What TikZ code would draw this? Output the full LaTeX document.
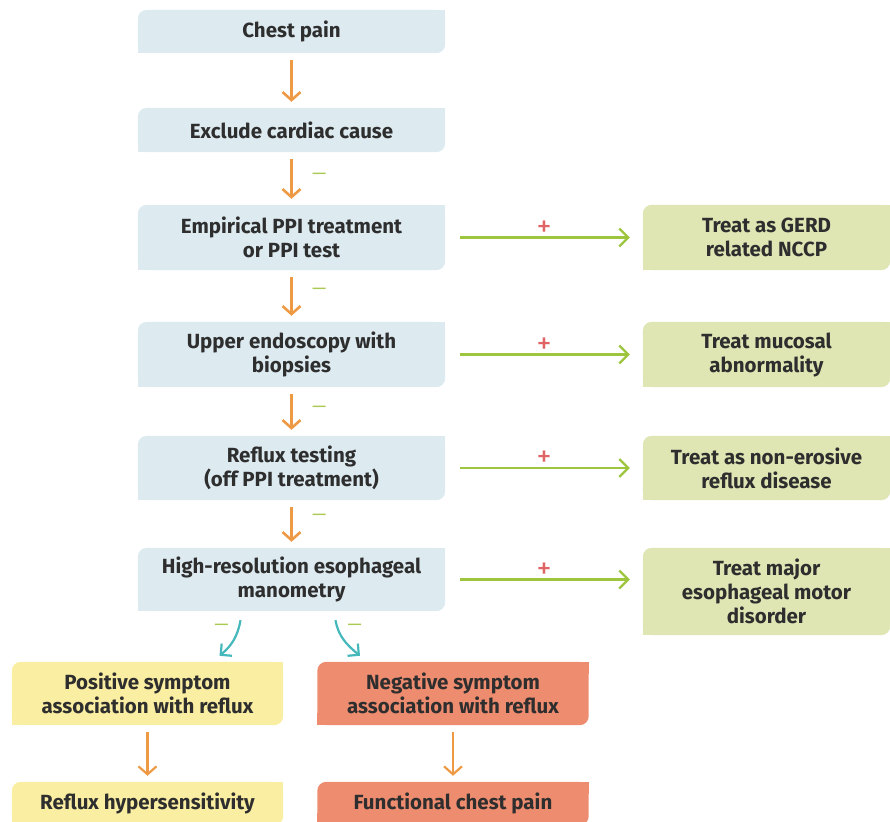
\documentclass[tikz,border=0pt]{standalone}
\usepackage{fontspec}
\setmainfont{Fira Sans}
\usetikzlibrary{arrows.meta,backgrounds}

\definecolor{azul}{HTML}{DDEBF1}
\definecolor{verde}{HTML}{DFE6B4}
\definecolor{amarillo}{HTML}{FAEEA2}
\definecolor{naranja}{HTML}{EE8C70}
\definecolor{flechanar}{HTML}{EE9A45}
\definecolor{flechaver}{HTML}{9DC53E}
\definecolor{turquesa}{HTML}{45B8BC}
\definecolor{mas}{HTML}{E06464}
\definecolor{menos}{HTML}{A9C952}
\definecolor{texto}{HTML}{2E2E2E}

\begin{document}
\begin{tikzpicture}[x=1pt, y=-1pt,
        caja/.style={text=texto, font=\bfseries\fontsize{20.5}{24}\selectfont, align=center, inner sep=0pt},
        izq/.style={caja, minimum width=307pt},
        der/.style={caja, minimum width=247pt},
        abajo/.style={caja, minimum width=271pt},
        bajar/.style={draw=flechanar, line width=2.6pt, -{Straight Barb[length=8pt,width=18pt]}, shorten <=7pt, shorten >=6pt},
        lado/.style={draw=flechaver, line width=2.2pt, -{Straight Barb[length=9pt,width=18pt]}, shorten <=15pt, shorten >=13pt},
        curva/.style={draw=turquesa, line width=2.2pt, -{Straight Barb[length=8pt,width=16pt]}},
        signomenos/.style={text=menos, font=\fontsize{18}{20}\selectfont},
        signomas/.style={text=mas, font=\fontsize{30}{30}\selectfont, inner sep=0pt}]

    \useasboundingbox (0,0) rectangle (890,821);

    % Columna principal
    \node[izq, minimum height=43pt] (chest) at (291.5,31.5) {Chest pain};
    \node[izq, minimum height=44pt] (exclude) at (291.5,130) {Exclude cardiac cause};
    \node[izq, minimum height=65pt] (ppi) at (291.5,237.5) {Empirical PPI treatment\\or PPI test};
    \node[izq, minimum height=65pt] (endo) at (291.5,354.5) {Upper endoscopy with\\biopsies};
    \node[izq, minimum height=64pt] (reflux) at (291.5,468) {Reflux testing\\(off PPI treatment)};
    \node[izq, minimum height=63pt] (hrm) at (291.5,579.5) {High-resolution esophageal\\manometry};

    % Tratamientos
    \node[der, minimum height=65pt] (gerd) at (766.5,237.5) {Treat as GERD\\related NCCP};
    \node[der, minimum height=65pt] (mucosa) at (766.5,354.5) {Treat mucosal\\abnormality};
    \node[der, minimum height=64pt] (nerd) at (766.5,468) {Treat as non-erosive\\reflux disease};
    \node[der, minimum height=87pt] (motor) at (766.5,591.5) {Treat major\\esophageal motor\\disorder};

    % Resultados
    \node[abajo, minimum height=63pt] (positivo) at (147.5,693.5) {Positive symptom\\association with reflux};
    \node[abajo, minimum height=63pt] (negativo) at (453,693.5) {Negative symptom\\association with reflux};
    \node[abajo, minimum height=43pt] (hiper) at (147.5,803.5) {Reflux hypersensitivity};
    \node[abajo, minimum height=43pt] (funcional) at (453,803.5) {Functional chest pain};

    % Fondos
    \begin{scope}[on background layer]
        \foreach \n/\c in {chest/azul, exclude/azul, ppi/azul, endo/azul, reflux/azul, hrm/azul,
                gerd/verde, mucosa/verde, nerd/verde, motor/verde,
                positivo/amarillo, hiper/amarillo, negativo/naranja, funcional/naranja} {
            \fill[\c, rounded corners=9pt] (\n.south west) rectangle (\n.north east);
            \fill[\c] (\n.north east) rectangle ++(-12pt,-12pt);
            \fill[\c] (\n.south west) rectangle ++(12pt,12pt);
        }
    \end{scope}

    % Flechas hacia abajo
    \draw[bajar] (chest) -- (exclude);
    \draw[bajar] (exclude) -- node[pos=0.45, right=16pt, signomenos] {—} (ppi);
    \draw[bajar] (ppi) -- node[pos=0.4, right=16pt, signomenos] {—} (endo);
    \draw[bajar] (endo) -- node[pos=0.45, right=16pt, signomenos] {—} (reflux);
    \draw[bajar] (reflux) -- node[pos=0.35, right=16pt, signomenos] {—} (hrm);
    \draw[bajar, line width=2.2pt] (positivo) -- (hiper);
    \draw[bajar, line width=2.2pt] (negativo) -- (funcional);

    % Flechas a los tratamientos
    \draw[lado] (ppi.east) -- node[midway, above=0pt, signomas] {+} (ppi.east -| gerd.west);
    \draw[lado] (endo.east) -- node[midway, above=0pt, signomas] {+} (endo.east -| mucosa.west);
    \draw[lado] (reflux.east) -- node[midway, above=0pt, signomas] {+} (reflux.east -| nerd.west);
    \draw[lado] (hrm.east) -- node[midway, above=0pt, signomas] {+} (hrm.east -| motor.west);

    % Manometria
    \draw[curva] ([xshift=-51pt, yshift=-9pt]hrm.south) to[out=-100, in=40]
        node[pos=0.15, left=6pt, signomenos] {—} ([xshift=72pt, yshift=6pt]positivo.north);
    \draw[curva] ([xshift=44pt, yshift=-9pt]hrm.south) to[out=-80, in=140]
        node[pos=0.15, right=6pt, signomenos] {—} ([xshift=-93pt, yshift=6pt]negativo.north);
\end{tikzpicture}
\end{document}
